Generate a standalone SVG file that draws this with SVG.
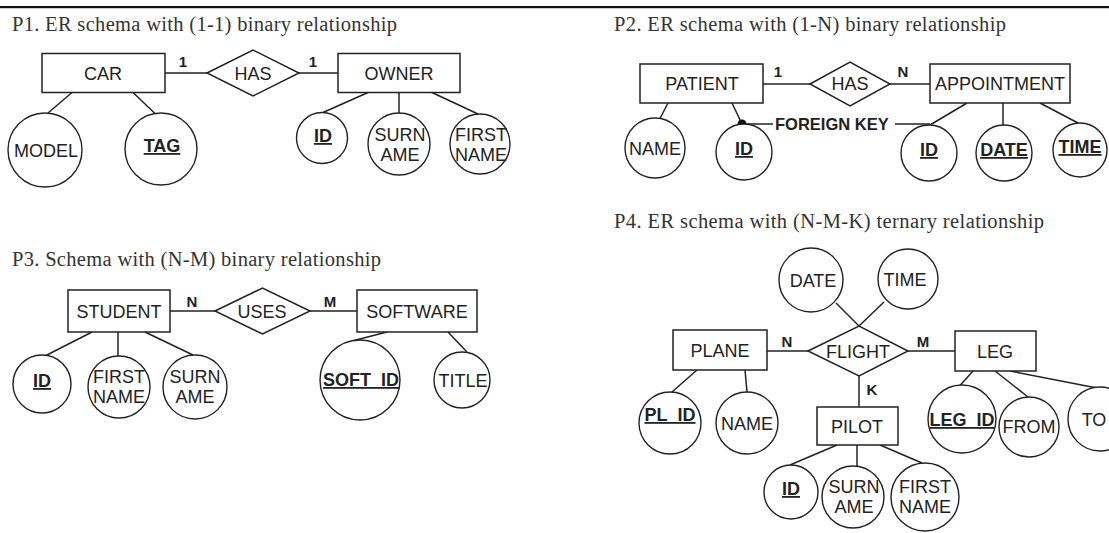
<svg xmlns="http://www.w3.org/2000/svg" width="1109" height="533" viewBox="0 0 1109 533">
<style>
.bg{fill:#fff}
.box{fill:#fff;stroke:#222;stroke-width:1.5}
.attr{fill:#fff;stroke:#222;stroke-width:1.4}
.rel{fill:#fff;stroke:#222;stroke-width:1.5}
.conn{stroke:#222;stroke-width:1.5;fill:none}
.lbl{font-family:"Liberation Sans",Arial,sans-serif;font-size:18px;fill:#222;text-anchor:middle}
.key{font-weight:bold;text-decoration:underline}
.card{font-family:"Liberation Sans",Arial,sans-serif;font-size:15px;font-weight:bold;fill:#222;text-anchor:middle}
.fk{font-family:"Liberation Sans",Arial,sans-serif;font-size:16.5px;font-weight:bold;fill:#222}
.title{font-family:"Liberation Serif","Times New Roman",serif;font-size:20.5px;fill:#333}
</style>
<rect class="bg" x="0" y="0" width="1109" height="533"/>
<rect x="0" y="6" width="1109" height="2.2" fill="#111"/>

<g id="titles">
<text class="title" x="12" y="31" textLength="385">P1. ER schema with (1-1) binary relationship</text>
<text class="title" x="614" y="31" textLength="392">P2. ER schema with (1-N) binary relationship</text>
<text class="title" x="12" y="266" textLength="369">P3. Schema with (N-M) binary relationship</text>
<text class="title" x="614" y="228" textLength="430">P4. ER schema with (N-M-K) ternary relationship</text>
</g>

<g id="connectors">
<!-- P1 -->
<line class="conn" x1="165" y1="73" x2="207" y2="73"/>
<line class="conn" x1="299" y1="73" x2="338" y2="73"/>
<line class="conn" x1="72" y1="92.5" x2="48" y2="113"/>
<line class="conn" x1="133" y1="92.5" x2="155" y2="113.5"/>
<line class="conn" x1="368" y1="92.5" x2="323" y2="112.5"/>
<line class="conn" x1="399" y1="92.5" x2="399" y2="113"/>
<line class="conn" x1="432" y1="92.5" x2="478" y2="114"/>
<text class="card" x="183" y="67">1</text>
<text class="card" x="313" y="67">1</text>
<!-- P2 -->
<line class="conn" x1="763" y1="84" x2="810" y2="84"/>
<line class="conn" x1="890" y1="84" x2="930" y2="84"/>
<line class="conn" x1="668" y1="103" x2="660" y2="118.5"/>
<line class="conn" x1="732" y1="103" x2="742" y2="124"/>
<line class="conn" x1="742" y1="124" x2="773" y2="124"/>
<line class="conn" x1="895" y1="124" x2="930" y2="124"/>
<circle cx="742" cy="124" r="4.5" fill="#111"/>
<text class="fk" x="775" y="130">FOREIGN KEY</text>
<line class="conn" x1="967" y1="103" x2="930" y2="125"/>
<line class="conn" x1="1003" y1="103" x2="1003" y2="125"/>
<line class="conn" x1="1040" y1="103" x2="1078" y2="123"/>
<text class="card" x="778" y="77">1</text>
<text class="card" x="903" y="77">N</text>
<!-- P3 -->
<line class="conn" x1="170" y1="311" x2="215" y2="311"/>
<line class="conn" x1="310" y1="311" x2="357" y2="311"/>
<line class="conn" x1="92" y1="332" x2="45" y2="356"/>
<line class="conn" x1="118" y1="332" x2="118" y2="356"/>
<line class="conn" x1="145" y1="332" x2="193" y2="355"/>
<line class="conn" x1="387" y1="332" x2="352" y2="341"/>
<line class="conn" x1="448" y1="332" x2="467" y2="352"/>
<text class="card" x="192" y="307">N</text>
<text class="card" x="330" y="307">M</text>
<!-- P4 -->
<line class="conn" x1="767" y1="351" x2="808" y2="351"/>
<line class="conn" x1="908" y1="351" x2="955" y2="351"/>
<line class="conn" x1="859" y1="376" x2="859" y2="407"/>
<line class="conn" x1="836" y1="303" x2="859" y2="326"/>
<line class="conn" x1="884" y1="302" x2="859" y2="326"/>
<line class="conn" x1="697" y1="370" x2="672" y2="392"/>
<line class="conn" x1="745" y1="370" x2="747" y2="392"/>
<line class="conn" x1="973" y1="371" x2="960" y2="385.5"/>
<line class="conn" x1="995" y1="371" x2="1028" y2="397"/>
<line class="conn" x1="1010" y1="371" x2="1097" y2="388"/>
<line class="conn" x1="837" y1="445" x2="790" y2="465"/>
<line class="conn" x1="857" y1="445" x2="857" y2="466"/>
<line class="conn" x1="880" y1="445" x2="922" y2="463"/>
<text class="card" x="787" y="347">N</text>
<text class="card" x="923" y="347">M</text>
<text class="card" x="872" y="395">K</text>
</g>

<!-- P1 nodes -->
<g id="car"><rect class="box" x="42" y="53.5" width="123" height="39"/><text class="lbl" x="103" y="79.5">CAR</text></g>
<g id="has1"><polygon class="rel" points="207,73 253,50 299,73 253,96"/><text class="lbl" x="253" y="79.5">HAS</text></g>
<g id="owner"><rect class="box" x="338" y="53.5" width="122" height="39"/><text class="lbl" x="399" y="79.5">OWNER</text></g>
<g id="car-model"><circle class="attr" cx="45" cy="150" r="37"/><text class="lbl" x="46" y="156.5">MODEL</text></g>
<g id="car-tag"><circle class="attr" cx="161" cy="149" r="36"/><text class="lbl key" x="162" y="152">TAG</text></g>
<g id="owner-id"><circle class="attr" cx="322" cy="138" r="25.5"/><text class="lbl key" x="323" y="142">ID</text></g>
<g id="owner-surname"><circle class="attr" cx="399" cy="144" r="31"/><text class="lbl" x="400" y="141">SURN</text><text class="lbl" x="400" y="161">AME</text></g>
<g id="owner-firstname"><circle class="attr" cx="480" cy="144" r="30"/><text class="lbl" x="481" y="141">FIRST</text><text class="lbl" x="481" y="161">NAME</text></g>

<!-- P2 nodes -->
<g id="patient"><rect class="box" x="640" y="64" width="123" height="39"/><text class="lbl" x="702" y="90">PATIENT</text></g>
<g id="has2"><polygon class="rel" points="810,84 850,62 890,84 850,106"/><text class="lbl" x="850" y="90">HAS</text></g>
<g id="appointment"><rect class="box" x="930" y="64" width="140" height="39"/><text class="lbl" x="1000" y="90">APPOINTMENT</text></g>
<g id="patient-name"><circle class="attr" cx="655" cy="148" r="30"/><text class="lbl" x="655" y="154.5">NAME</text></g>
<g id="patient-id"><circle class="attr" cx="744" cy="152" r="28"/><text class="lbl key" x="744" y="155">ID</text></g>
<g id="appointment-id"><circle class="attr" cx="929" cy="153" r="28"/><text class="lbl key" x="929" y="156">ID</text></g>
<g id="appointment-date"><circle class="attr" cx="1004" cy="153" r="28"/><text class="lbl key" x="1004" y="156">DATE</text></g>
<g id="appointment-time"><circle class="attr" cx="1080" cy="150" r="27"/><text class="lbl key" x="1080" y="153">TIME</text></g>

<!-- P3 nodes -->
<g id="student"><rect class="box" x="68" y="290" width="102" height="42"/><text class="lbl" x="119" y="317.5">STUDENT</text></g>
<g id="uses"><polygon class="rel" points="215,311 262.5,288 310,311 262.5,334"/><text class="lbl" x="262" y="317.5">USES</text></g>
<g id="software"><rect class="box" x="357" y="290" width="120" height="42"/><text class="lbl" x="417" y="317.5">SOFTWARE</text></g>
<g id="student-id"><circle class="attr" cx="42" cy="384" r="29"/><text class="lbl key" x="42" y="387">ID</text></g>
<g id="student-firstname"><circle class="attr" cx="119" cy="387" r="31"/><text class="lbl" x="119" y="383">FIRST</text><text class="lbl" x="119" y="403">NAME</text></g>
<g id="student-surname"><circle class="attr" cx="195" cy="387" r="32"/><text class="lbl" x="195" y="383">SURN</text><text class="lbl" x="195" y="403">AME</text></g>
<g id="software-softid"><circle class="attr" cx="360" cy="380" r="40"/><text class="lbl key" x="361" y="386">SOFT_ID</text></g>
<g id="software-title"><circle class="attr" cx="462" cy="380" r="28"/><text class="lbl" x="463" y="386.5">TITLE</text></g>

<!-- P4 nodes -->
<g id="flight"><polygon class="rel" points="808,351 859,326 908,351 859,376"/><text class="lbl" x="858" y="357.5">FLIGHT</text></g>
<g id="flight-date"><circle class="attr" cx="811" cy="280" r="32"/><text class="lbl" x="813" y="286.5">DATE</text></g>
<g id="flight-time"><circle class="attr" cx="908" cy="279" r="30"/><text class="lbl" x="905" y="285.5">TIME</text></g>
<g id="plane"><rect class="box" x="673" y="330" width="94" height="40"/><text class="lbl" x="720" y="356.5">PLANE</text></g>
<g id="leg"><rect class="box" x="955" y="331" width="81" height="40"/><text class="lbl" x="995" y="357.5">LEG</text></g>
<g id="pilot"><rect class="box" x="817" y="407" width="81" height="38"/><text class="lbl" x="857" y="432.5">PILOT</text></g>
<g id="plane-plid"><circle class="attr" cx="670" cy="423" r="31"/><text class="lbl key" x="670" y="421">PL_ID</text></g>
<g id="plane-name"><circle class="attr" cx="747" cy="423" r="31"/><text class="lbl" x="747" y="429.5">NAME</text></g>
<g id="leg-legid"><circle class="attr" cx="962" cy="419" r="34"/><text class="lbl key" x="962" y="426">LEG_ID</text></g>
<g id="leg-from"><circle class="attr" cx="1029" cy="427" r="30"/><text class="lbl" x="1029" y="432.5">FROM</text></g>
<g id="leg-to"><circle class="attr" cx="1100" cy="419" r="32"/><text class="lbl" x="1094" y="425.5">TO</text></g>
<g id="pilot-id"><circle class="attr" cx="791" cy="492" r="27"/><text class="lbl key" x="791" y="495">ID</text></g>
<g id="pilot-surname"><circle class="attr" cx="853" cy="497" r="31"/><text class="lbl" x="854" y="493">SURN</text><text class="lbl" x="854" y="513">AME</text></g>
<g id="pilot-firstname"><circle class="attr" cx="925" cy="497" r="34"/><text class="lbl" x="925" y="493">FIRST</text><text class="lbl" x="925" y="513">NAME</text></g>
</svg>
